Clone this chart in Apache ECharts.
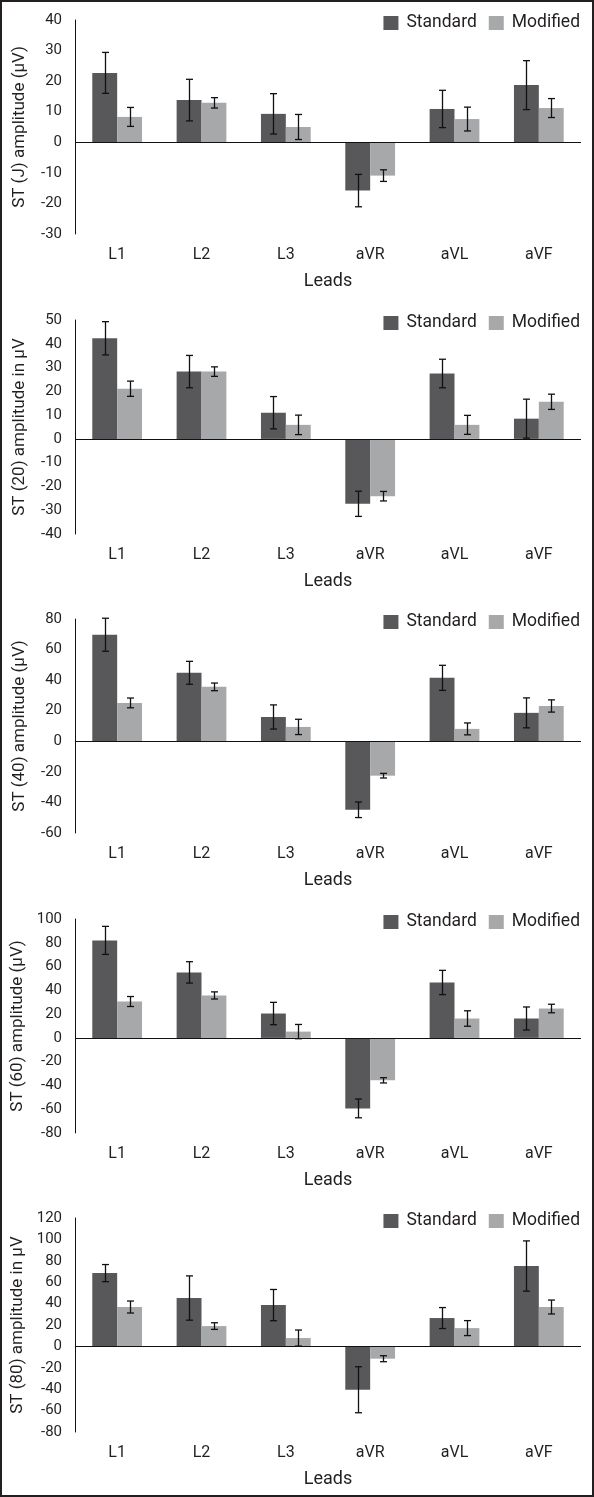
<!DOCTYPE html>
<html>
<head>
<meta charset="utf-8">
<script src="https://cdn.jsdelivr.net/npm/echarts@6/dist/echarts.min.js"></script>
<style>
html,body{margin:0;padding:0;background:#fff;}
#wrap{position:relative;width:594px;height:1497px;}
#chart{position:absolute;left:0;top:0;width:594px;height:1497px;}
#frame{position:absolute;left:0;top:0;width:594px;height:1497px;box-sizing:border-box;border:2px solid #231f20;pointer-events:none;}
</style>
</head>
<body>
<div id="wrap"><div id="chart"></div><div id="frame"></div></div>
<script>
const categories = ['L1', 'L2', 'L3', 'aVR', 'aVL', 'aVF'];
const seriesNames = ['Standard', 'Modified'];
const yTitles = ['ST (J) amplitude (\u03bcV)', 'ST (20) amplitude in \u03bcV', 'ST (40) amplitude (\u03bcV)', 'ST (60) amplitude (\u03bcV)', 'ST (80) amplitude in \u03bcV'];
const xTitle = 'Leads';
const yMin = [-30, -40, -60, -80, -80];
const yMax = [40, 50, 80, 100, 120];
const yStep = [10, 10, 20, 20, 20];

// ST (J)
const stJStandard = [22.7, 13.8, 9.3, -15.8, 10.9, 18.7];
const stJStandardErr = [6.7, 6.8, 6.6, 5.3, 6.1, 8.0];
const stJModified = [8.3, 12.9, 5.0, -10.9, 7.6, 11.2];
const stJModifiedErr = [3.1, 1.7, 4.1, 1.9, 3.9, 3.1];
// ST (20)
const st20Standard = [42.3, 28.3, 11.0, -27.3, 27.5, 8.5];
const st20StandardErr = [7.0, 6.8, 6.8, 5.3, 6.0, 8.2];
const st20Modified = [21.1, 28.3, 5.9, -24.1, 5.9, 15.6];
const st20ModifiedErr = [3.2, 2.0, 4.1, 2.0, 4.0, 3.2];
// ST (40)
const st40Standard = [69.7, 44.8, 15.9, -44.8, 41.5, 18.6];
const st40StandardErr = [10.8, 7.5, 7.9, 5.1, 8.2, 9.8];
const st40Modified = [25.1, 35.6, 9.4, -22.5, 8.1, 23.1];
const st40ModifiedErr = [3.2, 2.5, 5.0, 1.5, 3.9, 4.0];
// ST (60)
const st60Standard = [82.0, 55.1, 20.5, -59.3, 46.6, 16.3];
const st60StandardErr = [11.8, 9.0, 9.4, 7.9, 10.2, 9.7];
const st60Modified = [30.6, 35.7, 5.3, -35.7, 16.3, 24.7];
const st60ModifiedErr = [4.2, 3.0, 6.0, 2.2, 6.5, 3.6];
// ST (80)
const st80Standard = [68.5, 45.2, 38.6, -40.5, 26.5, 75.1];
const st80StandardErr = [8.0, 20.7, 14.6, 21.5, 9.8, 23.5];
const st80Modified = [36.8, 19.0, 7.8, -11.5, 17.1, 36.8];
const st80ModifiedErr = [5.6, 3.1, 7.5, 2.8, 7.0, 6.5];

const panels = [
  [stJStandard, stJStandardErr, stJModified, stJModifiedErr],
  [st20Standard, st20StandardErr, st20Modified, st20ModifiedErr],
  [st40Standard, st40StandardErr, st40Modified, st40ModifiedErr],
  [st60Standard, st60StandardErr, st60Modified, st60ModifiedErr],
  [st80Standard, st80StandardErr, st80Modified, st80ModifiedErr]
];

const FONT = "Roboto, 'Liberation Sans', sans-serif";
const TEXT = '#231f20';
const COLORS = ['#58585a', '#a7a8aa'];
const GAP = 0.41;
const gridTops = [20, 320, 619, 919, 1218];
const gridH = 214;

function errRenderer(sign) {
  return function (params, api) {
    const x = api.value(0);
    const pHi = api.coord([x, api.value(2)]);
    const pLo = api.coord([x, api.value(1)]);
    const band = api.size([1, 0])[0];
    const barW = band * (1 - GAP) / 2;
    const cx = Math.round(pHi[0] + sign * barW / 2) + 0.5;
    const cap = 3.5;
    const style = { stroke: '#111', lineWidth: 1.3 };
    return {
      type: 'group',
      children: [
        { type: 'line', shape: { x1: cx, y1: pHi[1], x2: cx, y2: pLo[1] }, style: style },
        { type: 'line', shape: { x1: cx - cap, y1: pHi[1], x2: cx + cap, y2: pHi[1] }, style: style },
        { type: 'line', shape: { x1: cx - cap, y1: pLo[1], x2: cx + cap, y2: pLo[1] }, style: style }
      ]
    };
  };
}

const grid = [], xAxis = [], yAxis = [], series = [], legend = [];
panels.forEach(function (p, i) {
  grid.push({ left: 75, width: 506, top: gridTops[i], height: gridH, outerBoundsMode: 'none', containLabel: false });
  xAxis.push({
    type: 'category', gridIndex: i, data: categories,
    axisLine: { show: false, onZero: false }, axisTick: { show: false },
    axisLabel: { color: TEXT, fontSize: 16, fontFamily: FONT, margin: 13 },
    name: xTitle, nameLocation: 'middle', nameGap: 38,
    nameTextStyle: { color: TEXT, fontSize: 18, fontFamily: FONT }
  });
  yAxis.push({
    type: 'value', gridIndex: i, min: yMin[i], max: yMax[i], interval: yStep[i],
    axisLine: { show: true, lineStyle: { color: '#111', width: 1 } },
    axisTick: { show: false }, splitLine: { show: false },
    axisLabel: { color: TEXT, fontSize: 15, fontFamily: FONT, margin: 13 },
    name: yTitles[i], nameLocation: 'middle', nameGap: 47,
    nameTextStyle: { color: TEXT, fontSize: 17, fontFamily: FONT }
  });
  legend.push({
    top: gridTops[i] - 6, right: 14, padding: 0, icon: 'rect',
    itemWidth: 15, itemHeight: 14, itemGap: 12,
    data: seriesNames,
    textStyle: { color: TEXT, fontSize: 17.5, fontFamily: FONT, padding: [0, 0, 0, 3] }
  });
  [0, 1].forEach(function (k) {
    const vals = p[k * 2], errs = p[k * 2 + 1];
    const bar = {
      type: 'bar', name: seriesNames[k], xAxisIndex: i, yAxisIndex: i,
      data: vals, barGap: '0%', barCategoryGap: (GAP * 100) + '%',
      itemStyle: { color: COLORS[k] }, silent: true, z: 2
    };
    if (k === 0) {
      bar.markLine = {
        silent: true, symbol: 'none', label: { show: false },
        lineStyle: { color: '#111', width: 1, type: 'solid' },
        data: [{ yAxis: 0 }]
      };
    }
    series.push(bar);
    series.push({
      type: 'custom', name: 'err' + i + k, xAxisIndex: i, yAxisIndex: i,
      renderItem: errRenderer(k === 0 ? -1 : 1),
      encode: { x: 0, y: [1, 2] }, z: 5, silent: true,
      data: vals.map(function (v, j) { return [j, v - errs[j], v + errs[j]]; })
    });
  });
});

const chart = echarts.init(document.getElementById('chart'), null, { renderer: 'canvas' });
chart.setOption({
  animation: false,
  backgroundColor: '#ffffff',
  textStyle: { fontFamily: FONT },
  grid: grid, xAxis: xAxis, yAxis: yAxis, legend: legend, series: series
});
</script>
</body>
</html>
